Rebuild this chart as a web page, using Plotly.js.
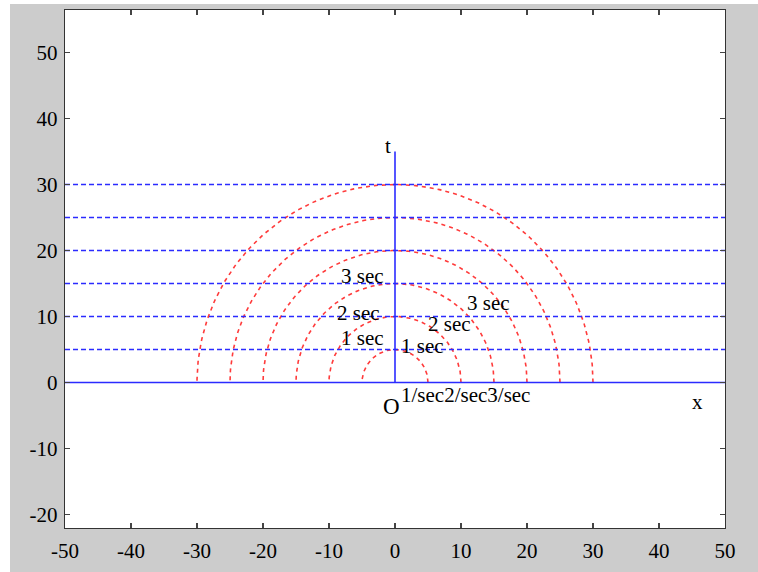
<!DOCTYPE html>
<html><head><meta charset="utf-8">
<script src="https://cdn.plot.ly/plotly-3.0.1.min.js"></script>
<style>html,body{margin:0;padding:0;background:#fff;width:758px;height:572px;overflow:hidden}
#plot{position:absolute;left:10px;top:4px;width:748px;height:568px}</style>
</head><body><div id="plot"></div>
<script>
// data
const radii = [5, 10, 15, 20, 25, 30];
const levels = [5, 10, 15, 20, 25, 30];
const xRange = [-50, 50];
const tAxisTop = 35;
const xTicks = [-50, -40, -30, -20, -10, 0, 10, 20, 30, 40, 50];
const yTicks = [-20, -10, 0, 10, 20, 30, 40, 50];
const leftLabels = ['1 sec', '2 sec', '3 sec'];
const leftLabelX = [-4.9, -5.6, -5.0];
const leftLabelY = [6.7, 10.6, 16.1];
const rightLabels = ['1 sec', '2 sec', '3 sec'];
const rightLabelX = [4.1, 8.3, 14.1];
const rightLabelY = [5.5, 8.8, 12.0];

const traces = [];
// semicircles
const nSeg = 180;
radii.forEach(r => {
  const xs = [], ys = [];
  for (let i = 0; i <= nSeg; i++) {
    const a = Math.PI * i / nSeg;
    xs.push(r * Math.cos(a)); ys.push(r * Math.sin(a));
  }
  traces.push({x: xs, y: ys, mode: 'lines', line: {color: '#ff3b3b', width: 1.6, dash: '4px,4px'}, hoverinfo: 'skip'});
});
// horizontal dashed
levels.forEach(v => {
  traces.push({x: xRange, y: [v, v], mode: 'lines', line: {color: '#2b2bff', width: 1.6, dash: '5px,3px'}, hoverinfo: 'skip'});
});
// axes lines
traces.push({x: xRange, y: [0, 0], mode: 'lines', line: {color: '#2b2bff', width: 1.6}});
traces.push({x: [0, 0], y: [0, tAxisTop], mode: 'lines', line: {color: '#2b2bff', width: 1.6}});

const serif = 'Liberation Serif, Times New Roman, serif';
const ann = [];
function add(text, x, y, size) {
  ann.push({text, x, y, xref: 'x', yref: 'y', showarrow: false, xanchor: 'center', yanchor: 'middle', font: {family: serif, size: size || 21, color: '#000'}});
}
leftLabels.forEach((t, i) => add(t, leftLabelX[i], leftLabelY[i]));
rightLabels.forEach((t, i) => add(t, rightLabelX[i], rightLabelY[i]));
add('t', -1.1, 35.9, 21);
add('x', 45.8, -2.9, 21);
add('O', -0.6, -3.6, 23);
ann.push({text: '1/sec2/sec3/sec', x: 0.6, y: -1.9, xref: 'x', yref: 'y', showarrow: false, xanchor: 'left', yanchor: 'middle', font: {family: serif, size: 21, color: '#000'}});

const axisCommon = {
  showgrid: false, zeroline: false, showline: true, linecolor: '#333', linewidth: 1.2,
  mirror: 'ticks', ticks: 'inside', ticklen: 5, tickwidth: 1.2, tickcolor: '#444',
  tickfont: {family: serif, size: 21, color: '#000'}, fixedrange: true
};
const layout = {
  width: 748, height: 568,
  font: {family: serif},
  margin: {l: 55, r: 33, t: 6, b: 44},
  paper_bgcolor: '#cccccc', plot_bgcolor: '#ffffff',
  showlegend: false,
  xaxis: Object.assign({}, axisCommon, {range: xRange, tickvals: xTicks, ticktext: xTicks.map(String), ticklabelstandoff: 4}),
  yaxis: Object.assign({}, axisCommon, {range: [-22.05, 56.45], tickvals: yTicks, ticktext: yTicks.map(String), ticklabelstandoff: 2}),
  annotations: ann
};
Plotly.newPlot('plot', traces, layout, {displayModeBar: false, staticPlot: true});
</script></body></html>
